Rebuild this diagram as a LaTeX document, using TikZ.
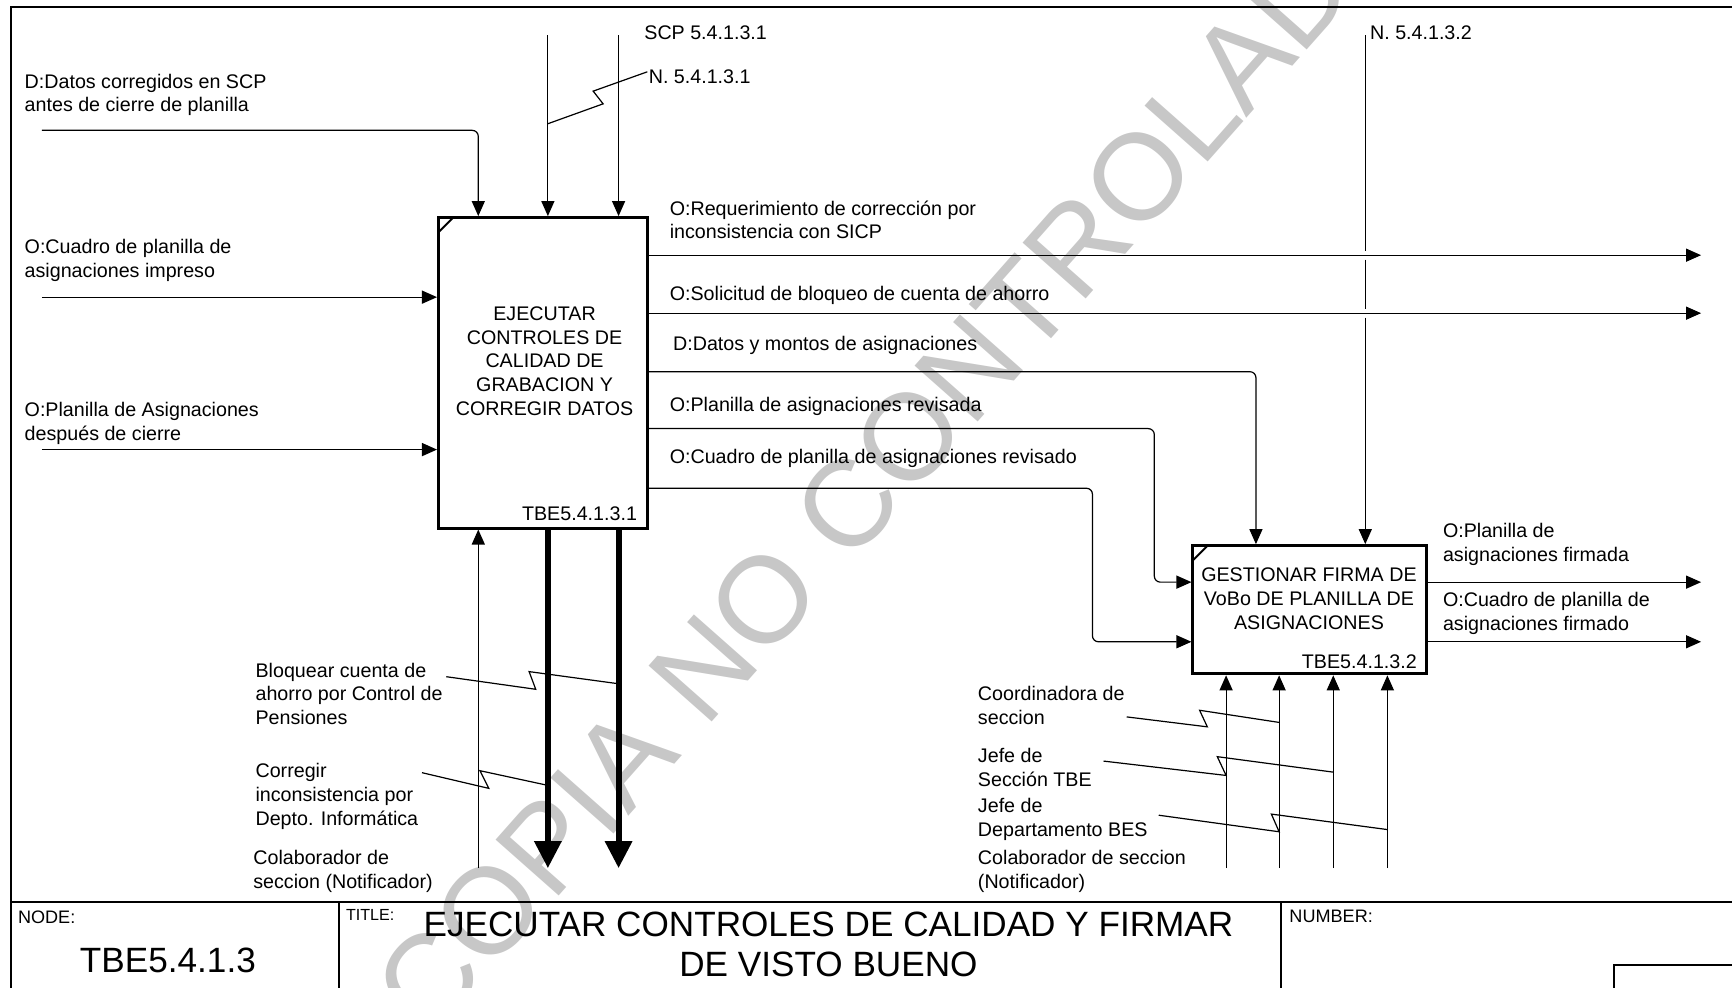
\documentclass[tikz,border=0pt]{standalone}
\usepackage{fontspec}
\setmainfont{Liberation Sans}
\usetikzlibrary{arrows.meta,calc}
\begin{document}
\begin{tikzpicture}[x=0.55pt,y=-0.55pt,
  lbl/.style={font=\fontsize{9.8}{11.8}\selectfont, align=left, anchor=west, inner sep=0pt},
  boxtext/.style={font=\fontsize{9.8}{11.8}\selectfont, align=center, inner sep=0pt},
  ln/.style={line width=0.6pt},
  arr/.style={ln, -{Triangle[length=7.5pt,width=6.5pt]}},
  thk/.style={line width=3pt, -{Triangle[length=13.5pt,width=13pt]}},
  procbox/.style={draw, line width=1.5pt, inner sep=0pt},
  frame/.style={line width=1pt},
  small/.style={font=\fontsize{9}{10}\selectfont, anchor=west, inner sep=0pt},
  big/.style={font=\fontsize{17.5}{19.8}\selectfont, align=center, inner sep=0pt}
]
\path[use as bounding box] (0,0) rectangle (1568,894);

% watermark
\node[rotate=48.5, text=black!22, font=\fontsize{61}{61}\selectfont, inner sep=0pt] (wm) at (806,414) {COPIA NO CONTROLADA};

% frame and title block
\draw[frame] (10,894) -- (10,6) -- (1568,6);
\draw[frame] (10,817) -- (1568,817);
\draw[frame] (307,817) -- (307,894);
\draw[frame] (1160,817) -- (1160,894);
\draw[frame] (1461,894) -- (1461,874) -- (1568,874);

% boxes
\node[procbox, minimum width=103.95pt, minimum height=154.55pt] (b1) at (491.5,337.5) {};
\node[procbox, minimum width=116.05pt, minimum height=63.8pt] (b2) at (1185.5,552) {};
\draw[line width=1pt] ($(b1.north west)+(1,15)$) -- ($(b1.north west)+(15,1)$);
\draw[line width=1pt] ($(b2.north west)+(1,15)$) -- ($(b2.north west)+(15,1)$);
\node[boxtext] (b1t) at (493,327) {EJECUTAR\\CONTROLES DE\\CALIDAD DE\\GRABACION Y\\CORREGIR DATOS};
\node[boxtext, anchor=east] (b1id) at (577,465) {TBE5.4.1.3.1};
\node[boxtext] (b2t) at (1185,542) {GESTIONAR FIRMA DE\\VoBo DE PLANILLA DE\\ASIGNACIONES};
\node[boxtext, anchor=east] (b2id) at (1283,599) {TBE5.4.1.3.2};

% top controls of box 1
\coordinate (inD) at (38,118);
\coordinate (cN1) at (496,32);
\coordinate (cSCP) at (560,32);
\draw[arr, rounded corners=3pt] (inD) -- (433,118) -- (433,0 |- b1.north);
\draw[arr] (cN1) -- (cN1 |- b1.north);
\draw[arr] (cSCP) -- (cSCP |- b1.north);
\draw[ln] (496,112) -- (546,94) -- (537,82.5) -- (586,65);

% left inputs
\coordinate (inC) at (38,269);
\coordinate (inP) at (38,407);
\draw[arr] (inC) -- (inC -| b1.west);
\draw[arr] (inP) -- (inP -| b1.west);

% right outputs of box 1
\coordinate (oR) at (1540,231);
\coordinate (oS) at (1540,283.5);
\draw[arr] (oR -| b1.east) -- (oR);
\draw[arr] (oS -| b1.east) -- (oS);
\draw[arr, rounded corners=3pt] (b1.east |- 0,336.5) -- (1137,336.5) -- (1137,0 |- b2.north);
\draw[arr, rounded corners=3pt] (b1.east |- 0,388) -- (1045,388) -- (1045,527) -- (b2.west |- 0,527);
\draw[arr, rounded corners=3pt] (b1.east |- 0,442) -- (989,442) -- (989,581) -- (b2.west |- 0,581);

% control N. 5.4.1.3.2
\coordinate (cN2) at (1236,32);
\draw[ln] (cN2) -- (1236,227);
\draw[ln] (1236,235) -- (1236,279.5);
\draw[arr] (1236,287.5) -- (1236,0 |- b2.north);

% outputs of box 2
\coordinate (oF1) at (1540,527);
\coordinate (oF2) at (1540,581);
\draw[arr] (oF1 -| b2.east) -- (oF1);
\draw[arr] (oF2 -| b2.east) -- (oF2);

% mechanisms of box 1
\coordinate (m1) at (433,786);
\coordinate (t1) at (496,786);
\coordinate (t2) at (560,786);
\draw[arr] (m1) -- (m1 |- b1.south);
\draw[thk] (t1 |- b1.south) -- (t1);
\draw[thk] (t2 |- b1.south) -- (t2);
\draw[ln] (404,612.6) -- (485,624) -- (479,608) -- (560,619);
\draw[ln] (382,699.5) -- (442.5,713.7) -- (434.5,697.7) -- (496,711);

% mechanisms of box 2
\coordinate (m2) at (1110,786);
\coordinate (m3) at (1158,786);
\coordinate (m4) at (1207,786);
\coordinate (m5) at (1256,786);
\draw[arr] (m2) -- (m2 |- b2.south);
\draw[arr] (m3) -- (m3 |- b2.south);
\draw[arr] (m4) -- (m4 |- b2.south);
\draw[arr] (m5) -- (m5 |- b2.south);
\draw[ln] (1020,649) -- (1093,658) -- (1086,643) -- (1158,654);
\draw[ln] (999,689) -- (1110,702) -- (1102,685) -- (1207,699);
\draw[ln] (1049,738) -- (1158,753) -- (1151,737) -- (1256,751);

% labels
\node[lbl] (lSCP) at (583,30) {SCP 5.4.1.3.1};
\node[lbl] (lN1) at (587,69) {N. 5.4.1.3.1};
\node[lbl] (lN2) at (1240,30) {N. 5.4.1.3.2};
\node[lbl] (lD) at (22,86) {D:Datos corregidos en SCP\\antes de cierre de planilla};
\node[lbl] (lC) at (22,236) {O:Cuadro de planilla de\\asignaciones impreso};
\node[lbl] (lP) at (22,383) {O:Planilla de Asignaciones\\después de cierre};
\node[lbl] (lR) at (606,199) {O:Requerimiento de corrección por\\inconsistencia con SICP};
\node[lbl] (lS) at (606,267) {O:Solicitud de bloqueo de cuenta de ahorro};
\node[lbl] (lDM) at (609,313) {D:Datos y montos de asignaciones};
\node[lbl] (lPR) at (606,368) {O:Planilla de asignaciones revisada};
\node[lbl] (lCR) at (606,415) {O:Cuadro de planilla de asignaciones revisado};
\node[lbl] (lF1) at (1306,493) {O:Planilla de\\asignaciones firmada};
\node[lbl] (lF2) at (1306,555) {O:Cuadro de planilla de\\asignaciones firmado};
\node[lbl] (lB) at (231,628) {Bloquear cuenta de\\ahorro por Control de\\Pensiones};
\node[lbl] (lCo) at (231,721) {Corregir\\inconsistencia por\\Depto. Informática};
\node[lbl] (lCol1) at (229,789) {Colaborador de\\seccion (Notificador)};
\node[lbl] (lCoord) at (885,638.5) {Coordinadora de\\seccion};
\node[lbl] (lJS) at (885,694.5) {Jefe de\\Sección TBE};
\node[lbl] (lJD) at (885,741.5) {Jefe de\\Departamento BES};
\node[lbl] (lCol2) at (885,789) {Colaborador de seccion\\(Notificador)};

% title block texts
\node[small] (tNode) at (16,830) {NODE:};
\node[big] (tNum) at (152,869) {TBE5.4.1.3};
\node[small, font=\fontsize{8}{9}\selectfont] (tTitle) at (313,828) {TITLE:};
\node[big] (tMain) at (750,855) {EJECUTAR CONTROLES DE CALIDAD Y FIRMAR\\DE VISTO BUENO};
\node[small] (tNumber) at (1167,830) {NUMBER:};
\end{tikzpicture}
\end{document}
